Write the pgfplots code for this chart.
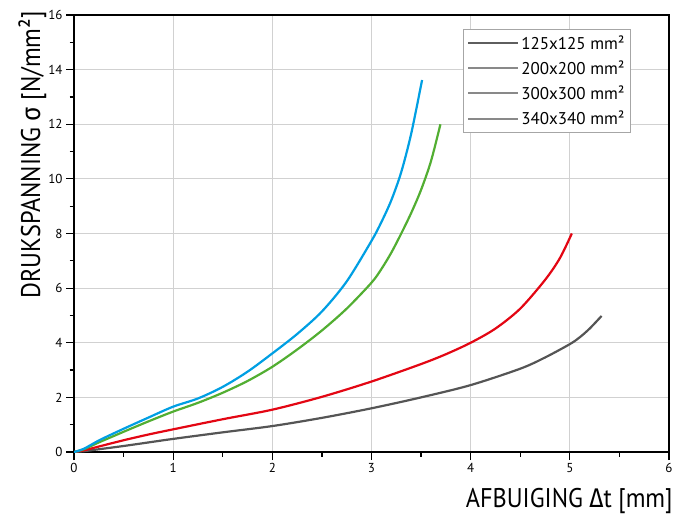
\documentclass[border=0pt]{standalone}
\usepackage{fontspec}
\setmainfont{PT Sans}
\newfontfamily\gr{Fira Sans}
\newfontfamily\lab[FakeStretch=0.9]{PT Sans}
\newfontfamily\labgr[FakeStretch=0.9]{Fira Sans}
\usepackage{pgfplots}
\pgfplotsset{compat=1.18}
\definecolor{cgray}{HTML}{555555}
\definecolor{cred}{HTML}{E30613}
\definecolor{cgreen}{HTML}{52AE32}
\definecolor{cblue}{HTML}{009FE3}
\definecolor{lgA}{HTML}{5E5E5E}
\definecolor{lgB}{HTML}{898989}
\begin{document}
\begin{tikzpicture}
\begin{axis}[
  width=595pt, height=437pt, scale only axis,
  xmin=0, xmax=6, ymin=0, ymax=16,
  xtick={0,...,6}, ytick={0,2,...,16},
  minor x tick num=1, minor y tick num=1,
  tick align=outside, xtick pos=bottom, ytick pos=left,
  major tick length=8pt, minor tick length=4.5pt,
  every tick/.append style={black, line width=1.2pt},
  grid=major, major grid style={black!18, line width=0.8pt},
  axis line style={line width=1.6pt},
  tick label style={font=\fontsize{13}{15}\selectfont},
  /pgf/number format/assume math mode=true,
  xlabel={AFBUIGING {\labgr Δ}t [mm]},
  ylabel={DRUKSPANNING {\labgr σ} [N/mm²]},
  label style={font=\fontsize{27}{30}\lab},
  xlabel style={at={(axis description cs:1.012,-0.128)}, anchor=base east},
  ylabel style={at={(axis description cs:-0.057,1.016)}, anchor=base east},
  legend style={at={(axis description cs:0.6538,0.968)}, anchor=north west,
    draw=black!35, line width=0.8pt, fill=white,
    font=\fontsize{17}{20}\selectfont, row sep=6pt, inner sep=4pt},
  legend cell align=left,
  legend image code/.code={\draw[#1] (0pt,0pt) -- (50pt,0pt);},
]
\coordinate (sw) at (rel axis cs:0,0);
\coordinate (ne) at (rel axis cs:1,1);
\addplot[cgray, line width=2.2pt, smooth, forget plot] coordinates {
(0,0) (0.1,0.03) (0.25,0.1) (0.5,0.22) (0.75,0.35) (1.0,0.48) (1.5,0.72)
(2.0,0.95) (2.5,1.25) (3.0,1.6) (3.5,2.0) (4.0,2.45)
(4.5,3.05) (4.75,3.46) (5.0,3.95) (5.1,4.2) (5.2,4.52) (5.32,4.98)};
\addplot[cred, line width=2.2pt, smooth, forget plot] coordinates {
(0,0) (0.1,0.06) (0.25,0.2) (0.5,0.43) (0.75,0.64) (1.0,0.83) (1.5,1.2)
(2.0,1.55) (2.5,2.02) (3.0,2.58) (3.5,3.22) (3.75,3.58) (4.0,4.0) (4.25,4.52)
(4.5,5.25) (4.75,6.3) (4.9,7.1) (5.02,8.0)};
\addplot[cgreen, line width=2.2pt, smooth, forget plot] coordinates {
(0,0) (0.1,0.1) (0.25,0.35) (0.5,0.74) (0.75,1.12) (1.0,1.48) (1.25,1.8)
(1.5,2.17) (1.75,2.6) (2.0,3.12) (2.25,3.75) (2.5,4.45) (2.75,5.25)
(3.0,6.2) (3.1,6.7) (3.2,7.3) (3.3,8.0) (3.4,8.75) (3.5,9.6) (3.6,10.65)
(3.695,12.0)};
\addplot[cblue, line width=2.2pt, smooth, forget plot] coordinates {
(0,0) (0.1,0.12) (0.26,0.44) (0.5,0.85) (0.75,1.26) (1.0,1.66) (1.25,1.96)
(1.5,2.385) (1.75,2.94) (2.0,3.61) (2.25,4.32) (2.5,5.145) (2.75,6.245)
(3.0,7.73) (3.1,8.42) (3.2,9.22) (3.3,10.25) (3.4,11.65) (3.51,13.62)};
\addlegendimage{lgA, line width=2pt}
\addlegendentry{125x125 mm²}
\addlegendimage{lgB, line width=2pt}
\addlegendentry{200x200 mm²}
\addlegendimage{lgB, line width=2pt}
\addlegendentry{300x300 mm²}
\addlegendimage{lgB, line width=2pt}
\addlegendentry{340x340 mm²}
\end{axis}
\pgfresetboundingbox
\path[use as bounding box] ([shift={(-74pt,-64pt)}]sw) rectangle ([shift={(20pt,15pt)}]ne);
\end{tikzpicture}
\end{document}
